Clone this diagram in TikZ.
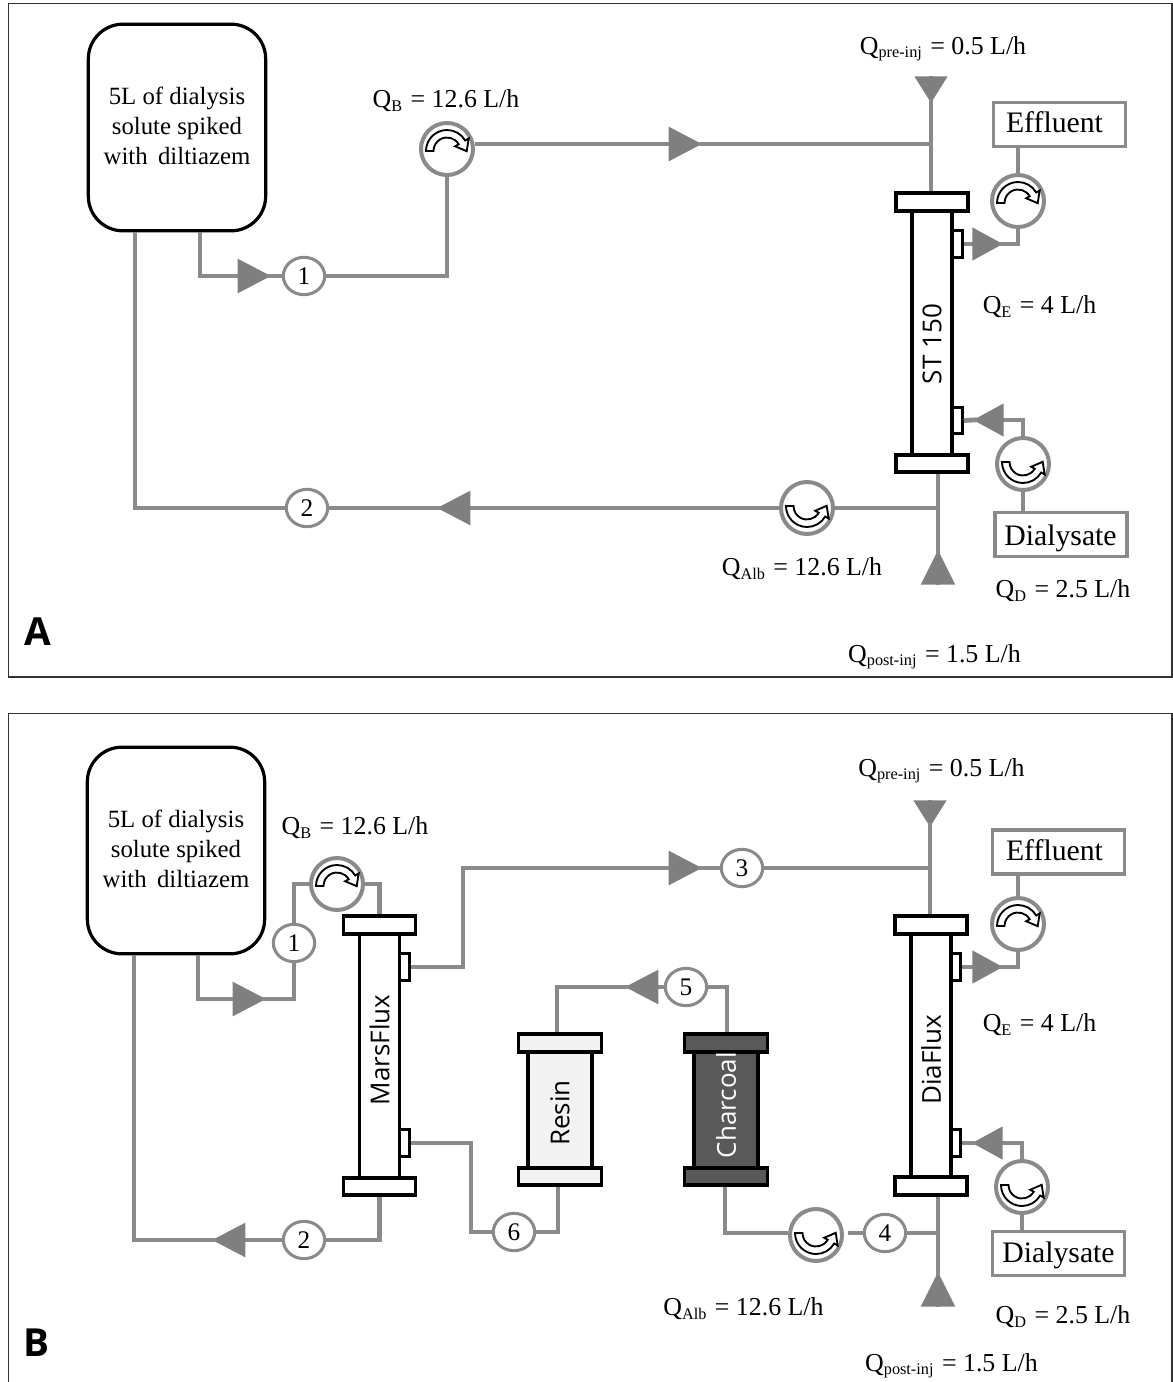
\documentclass[tikz,border=0pt]{standalone}
\usepackage{fontspec}
\usepackage{tikz}
\usetikzlibrary{arrows.meta, shapes.geometric}
\setmainfont{Liberation Serif}
\newfontfamily\lblfont{Open Sans}
\definecolor{pipegray}{HTML}{8A8A8A}
\definecolor{tipgray}{HTML}{7F7F7F}
\definecolor{resinfill}{HTML}{F2F2F2}
\definecolor{charfill}{HTML}{595959}
\newcommand{\qflow}[2]{Q\raisebox{-2.5pt}{\fontsize{12.2pt}{13pt}\selectfont #1}\hspace{1.5pt}~= #2 L/h}
\tikzset{
  pipe/.style={draw=pipegray, line width=3.6pt},
  aftertip/.style={pipe, shorten <=-3pt},
  flow/.style={-{Triangle[length=25pt,width=25pt,color=tipgray]}},
  flowport/.style={-{Triangle[length=23pt,width=24pt,color=tipgray]}},
  flowdown/.style={-{Triangle[length=20pt,width=24pt,color=tipgray]}},
  flowup/.style={-{Triangle[length=26pt,width=25pt,color=tipgray]}},
  tank/.style={draw, line width=2.4pt, rounded corners=26pt, minimum width=133pt, minimum height=155pt},
  tanktext/.style={align=center, inner sep=0pt, font=\fontsize{18.6pt}{22.5pt}\selectfont},
  pump/.style={circle, draw=pipegray, fill=white, line width=3pt, minimum size=39pt, inner sep=0pt},
  numc/.style={ellipse, draw=pipegray, fill=white, line width=2.3pt, minimum width=31pt, minimum height=28pt, inner sep=0pt, font=\fontsize{19pt}{20pt}\selectfont},
  sink/.style={rectangle, draw=pipegray, fill=white, line width=2.6pt, minimum width=99pt, minimum height=33pt},
  sinktext/.style={inner sep=0pt, font=\fontsize{22.3pt}{24pt}\selectfont},
  capbox/.style={rectangle, draw, line width=2.9pt, minimum height=13pt, inner sep=0pt},
  bodybox/.style={rectangle, draw, line width=2.9pt, inner sep=0pt},
  portbox/.style={rectangle, draw, fill=white, line width=2.2pt, minimum width=7.2pt, minimum height=20pt, inner sep=0pt},
  qlabel/.style={inner sep=0pt, yshift=-1.5pt, font=\fontsize{19.4pt}{22pt}\selectfont},
  rotor/.pic={\draw[fill=white, line width=1.4pt] (-21,2) arc[start angle=180,end angle=330,radius=21] -- (21.65,-10.5) -- (19.7,2.2) -- (8.2,-2.75) -- (11.7,-4.75) arc[start angle=330,end angle=180,radius=13.5] -- cycle;}
}
\begin{document}
\begin{tikzpicture}[x=.75pt, y=-.75pt]
  \useasboundingbox (0,0) rectangle (1173,1382);
  \draw[line width=.9pt, black!80] (8.5,3.5) rectangle (1172,677);
  \draw[line width=.9pt, black!80] (8.5,1382) -- (8.5,713.5) -- (1172,713.5) -- (1172,1382);
  \node[inner sep=0pt, font=\lblfont\bfseries\fontsize{29pt}{30pt}\selectfont] (panelA) at (38,632) {A};
  \node[inner sep=0pt, font=\lblfont\bfseries\fontsize{29pt}{30pt}\selectfont] (panelB) at (36,1343) {B};
  \foreach \nm/\x/\y in {tankA/177/127.5, tankB/176/850.5} {
    \node[tank] (\nm) at (\x,\y) {};
    \node[tanktext] (\nm txt) at (\x,\y-2) {5L of dialysis\\solute spiked\\with\, diltiazem};
  }
  \foreach \nm/\x/\y in {pA1/957.5/244, pA2/957.5/420.5, pB1/404.5/967, pB2/404.5/1143, pC1/956/967, pC2/956/1143} {
    \node[portbox] (\nm) at (\x,\y) {};
  }
  \foreach \nm/\x/\yt/\yb/\bw/\cw/\col/\tcol/\ly/\lab in {ftA/932/202/463.5/40/72/white/black/344/ST 150, ftB/379.5/925/1186.5/40/72/white/black/1050/MarsFlux, ftC/931/925/1186/40/72/white/black/1060/DiaFlux, ftR/560/1043/1176.5/64/83/resinfill/black/1113/Resin, ftS/726/1043/1176.5/64/83/charfill/white/1105/Charcoal} {
    \node[bodybox, fill=\col, minimum width=\bw*.75pt, minimum height=(\yb-\yt)*.75pt] (\nm) at (\x,{(\yt+\yb)/2}) {};
    \node[capbox, fill=\col, minimum width=\cw*.75pt] (\nm top) at (\x,\yt) {};
    \node[capbox, fill=\col, minimum width=\cw*.75pt] (\nm bot) at (\x,\yb) {};
    \node[inner sep=0pt, text=\tcol, font=\lblfont\fontsize{19.5pt}{20pt}\selectfont] (\nm lab) at (\x,\ly) {\rotatebox{90}{\lab}};
  }
  \foreach \nm/\x/\y/\flip in {pumpA1/447/149/1, pumpA2/1018/201/1, pumpA3/1023/464/-1, pumpA4/807/508/-1, pumpB1/337/884/1, pumpC1/1018/924/1, pumpC2/1022/1187/-1, pumpS/816/1235/-1} {
    \node[pump] (\nm) at (\x,\y) {};
    \pic[yscale=\flip] at (\nm) {rotor};
  }
  \foreach \nm/\x/\y/\k in {nA1/304/276/1, nA2/307/508/2, nB1/294/943/1, nB2/304/1240/2, nB3/742/868/3, nB4/885/1233/4, nB5/686/987/5, nB6/514/1232/6} {
    \node[numc] (\nm) at (\x,\y) {\k};
  }
  \foreach \nm/\x/\y/\lx/\ly/\lab in {effA/1059.5/124.5/1054.5/122/Effluent, dialA/1061/534.5/1060.5/538.5/Dialysate, effB/1058.5/852/1054.5/850/Effluent, dialB/1058.5/1253.5/1058.5/1255.5/Dialysate} {
    \node[sink] (\nm) at (\x,\y) {};
    \node[sinktext] (\nm txt) at (\lx,\ly) {\lab};
  }
  \foreach \nm/\x/\y/\s/\v in {qA1/943/47/pre-inj/0.5, qA2/446/99/B/12.6, qA3/1039.5/305/E/4, qA4/802/567/Alb/12.6, qA5/1063/589/D/2.5, qA6/934.5/655/post-inj/1.5, qB1/941.5/769/pre-inj/0.5, qB2/355/826/B/12.6, qB3/1039.5/1023/E/4, qB4/743.5/1307/Alb/12.6, qB5/1063/1315/D/2.5, qB6/951.5/1364/post-inj/1.5} {
    \node[qlabel] (\nm) at (\x,\y) {\qflow{\s}{\v}};
  }
  \foreach \nm/\x/\y in {cA1/200/276, tipA1/271/276, triA2/702/144, juA1/931/144, inA1/931/76, tipA3/931/103, tipA4/1003/244, tipA5/973/420, juA2/938/508, inA2/938/585, tipA6/938/550, tipA7/437/508, cA2/135/508,
      cB1/198/999, tipB1/266/999, cB2/463/967, tipB3/702/868, juB1/930/868, inB1/930/800, tipB2/930/827, tipB4/1003/967, tipB5/972/1143, juB2/938/1233, inB2/938/1307, tipB6/938/1272, cB3/134/1240, tipB7/212/1240, cB4/471/1143, cB5/558/1232, tipB8/625/987, cB6/557/987, cB7/727/987, cB8/725/1233} {
    \coordinate (\nm) at (\x,\y);
  }
  \draw[pipe, flow]     (cA1 |- tankA.south) -- (cA1) -- (tipA1);
  \draw[aftertip]       (tipA1) -- (nA1.west);
  \draw[pipe]           (nA1.east) -| (pumpA1.south);
  \draw[pipe, flow]     (pumpA1.east |- triA2) -- (triA2);
  \draw[aftertip]       (triA2) -- (juA1);
  \draw[pipe, flowdown] (inA1) -- (tipA3);
  \draw[aftertip]       (tipA3) -- (tipA3 |- ftAtop.north);
  \draw[pipe, flowport] (pA1.east) -- (tipA4);
  \draw[aftertip]       (tipA4) -| (pumpA2.south);
  \draw[pipe]           (pumpA2.north) -- (pumpA2 |- effA.south);
  \draw[pipe, flowport] (pumpA3.north) |- (tipA5);
  \draw[aftertip]       (tipA5) -- (pA2.east);
  \draw[pipe]           (pumpA3.south) -- (pumpA3 |- dialA.north);
  \draw[pipe, flowup]   (inA2) -- (tipA6);
  \draw[aftertip]       (tipA6) -- (tipA6 |- ftAbot.south);
  \draw[pipe]           (juA2) -- (pumpA4.east);
  \draw[pipe, flow]     (pumpA4.west) -- (tipA7);
  \draw[aftertip]       (tipA7) -- (nA2.east);
  \draw[pipe]           (nA2.west) -- (cA2) -- (cA2 |- tankA.south);
  \draw[pipe, flow]     (cB1 |- tankB.south) -- (cB1) -- (tipB1);
  \draw[aftertip]       (tipB1) -| (nB1.south);
  \draw[pipe]           (nB1.north) |- (pumpB1.west);
  \draw[pipe]           (pumpB1.east) -| (ftBtop.north);
  \draw[pipe, flow]     (pB1.east) -- (cB2) |- (tipB3);
  \draw[aftertip]       (tipB3) -- (nB3.west);
  \draw[pipe]           (nB3.east) -- (juB1);
  \draw[pipe, flowdown] (inB1) -- (tipB2);
  \draw[aftertip]       (tipB2) -- (tipB2 |- ftCtop.north);
  \draw[pipe, flowport] (pC1.east) -- (tipB4);
  \draw[aftertip]       (tipB4) -| (pumpC1.south);
  \draw[pipe]           (pumpC1.north) -- (pumpC1 |- effB.south);
  \draw[pipe, flowport] (pumpC2.north) |- (tipB5);
  \draw[aftertip]       (tipB5) -- (pC2.east);
  \draw[pipe]           (pumpC2.south) -- (pumpC2 |- dialB.north);
  \draw[pipe, flowup]   (inB2) -- (tipB6);
  \draw[aftertip]       (tipB6) -- (tipB6 |- ftCbot.south);
  \draw[pipe]           (juB2) -- (nB4.east);
  \draw[pipe, shorten >=3pt] (nB4.west) -- (pumpS.east |- nB4.west);
  \draw[pipe]           (pumpS.west |- cB8) -- (cB8) -- (cB8 |- ftSbot.south);
  \draw[pipe]           (cB7 |- ftStop.north) -- (cB7) -- (nB5.east);
  \draw[pipe, flow]     (nB5.west) -- (tipB8);
  \draw[aftertip]       (tipB8) -- (cB6) -- (cB6 |- ftRtop.north);
  \draw[pipe]           (cB5 |- ftRbot.south) -- (cB5) -- (nB6.east);
  \draw[pipe]           (nB6.west) -| (cB4) -- (pB2.east);
  \draw[pipe]           (ftBbot.south) |- (nB2.east);
  \draw[pipe, flow]     (nB2.west) -- (tipB7);
  \draw[aftertip]       (tipB7) -- (cB3) -- (cB3 |- tankB.south);
\end{tikzpicture}
\end{document}
